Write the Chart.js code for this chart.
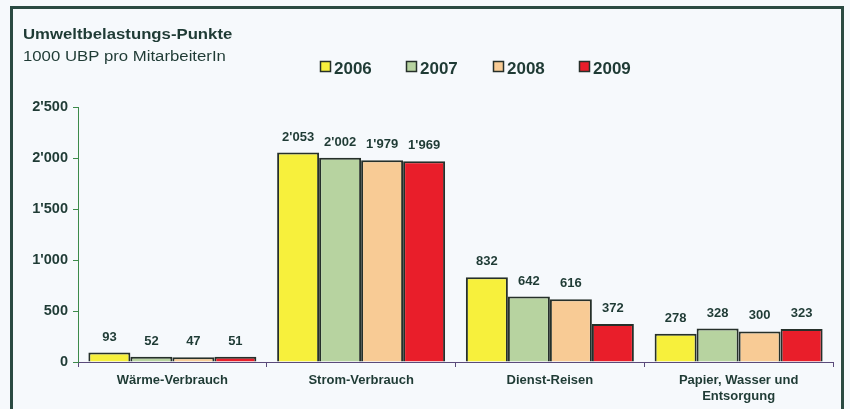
<!DOCTYPE html>
<html><head><meta charset="utf-8">
<script src="https://cdn.jsdelivr.net/npm/chart.js@4.4.1/dist/chart.umd.min.js"></script>
<style>html,body{margin:0;padding:0;background:#f6f9fc}#w{width:850px;height:409px}</style>
</head><body><div id="w"><canvas id="c" width="850" height="409"></canvas></div>
<script>
const categories = ["Wärme-Verbrauch", "Strom-Verbrauch", "Dienst-Reisen", ["Papier, Wasser und", "Entsorgung"]];
const years = ["2006", "2007", "2008", "2009"];
const v2006 = [93, 2053, 832, 278];
const v2007 = [52, 2002, 642, 328];
const v2008 = [47, 1979, 616, 300];
const v2009 = [51, 1969, 372, 323];
const yTicks = [0, 500, 1000, 1500, 2000, 2500];
const titleText = "Umweltbelastungs-Punkte";
const subtitleText = "1000 UBP pro MitarbeiterIn";

const colors = ["#f7f03c", "#b7d3a0", "#f8cb95", "#e91e2a"];
const TXT = "#1f3b35";
const FONT = "'Liberation Sans', Arial, sans-serif";
const fmt = v => { const s = String(Math.round(v)); return s.length > 3 ? s.slice(0, -3) + "'" + s.slice(-3) : s; };

function stretchText(ctx, text, x, y, sx) {
  ctx.save();
  ctx.translate(x, y);
  ctx.scale(sx, 1);
  ctx.fillText(text, 0, 0);
  ctx.restore();
}

const decor = {
  id: 'decor',
  beforeDraw(chart) {
    const ctx = chart.ctx;
    ctx.save();
    ctx.fillStyle = "#f6f9fc";
    ctx.fillRect(0, 0, chart.width, chart.height);
    ctx.strokeStyle = "#2a4a42";
    ctx.lineWidth = 3;
    ctx.strokeRect(11.5, 7.5, 831, 420);
    ctx.restore();
  },
  afterDraw(chart) {
    const ctx = chart.ctx;
    ctx.save();
    ctx.fillStyle = TXT;
    ctx.textBaseline = "alphabetic";
    ctx.textAlign = "left";
    ctx.font = "bold 15.5px " + FONT;
    stretchText(ctx, titleText, 23, 39, 1.08);
    ctx.font = "15.5px " + FONT;
    stretchText(ctx, subtitleText, 23, 61, 1.08);
    // legend
    const xs = [320, 406, 493, 579];
    chart.data.datasets.forEach((ds, i) => {
      ctx.fillStyle = ds.backgroundColor;
      ctx.fillRect(xs[i] + 0.5, 61.5, 10, 10);
      ctx.strokeStyle = "#26302a";
      ctx.lineWidth = 1.5;
      ctx.strokeRect(xs[i] + 0.5, 61.5, 10, 10);
      ctx.fillStyle = TXT;
      ctx.font = "bold 17px " + FONT;
      ctx.fillText(ds.label, xs[i] + 14, 74);
    });
    // data labels
    ctx.font = "bold 13px " + FONT;
    ctx.textAlign = "center";
    ctx.textBaseline = "bottom";
    chart.data.datasets.forEach((ds, i) => {
      chart.getDatasetMeta(i).data.forEach((bar, j) => {
        ctx.fillStyle = TXT;
        ctx.fillText(fmt(ds.data[j]), bar.x, bar.y - 9);
      });
    });
    ctx.restore();
  }
};

const dsList = [v2006, v2007, v2008, v2009].map((d, i) => ({
  label: years[i], data: d, backgroundColor: colors[i],
  borderColor: "#26302a", borderWidth: 2,
  barPercentage: 1, categoryPercentage: 0.89
}));

new Chart(document.getElementById('c'), {
  type: 'bar',
  data: { labels: categories, datasets: dsList },
  plugins: [decor],
  options: {
    responsive: false, animation: false,
    layout: { padding: { top: 107, right: 17, left: 0, bottom: 0 } },
    plugins: { legend: { display: false }, tooltip: { enabled: false }, title: { display: false } },
    scales: {
      x: {
        grid: { display: true, drawOnChartArea: false, offset: true, tickLength: 5, color: "#5a4a7a" },
        border: { display: true, color: "#5a4a7a", width: 1 },
        ticks: { color: TXT, font: { family: FONT, size: 13, weight: 'bold' }, padding: 6, maxRotation: 0 },
        afterFit(s) { s.height = 47; }
      },
      y: {
        min: 0, max: 2500,
        afterBuildTicks(s) { s.ticks = yTicks.map(v => ({ value: v })); },
        grid: { display: true, drawOnChartArea: false, tickLength: 5, color: "#3c8a4a" },
        border: { display: true, color: "#3c8a4a", width: 1 },
        ticks: { color: TXT, font: { family: FONT, size: 14.5, weight: 'bold' }, padding: 5, callback: v => fmt(v) },
        afterFit(s) { s.width = 78; }
      }
    }
  }
});
</script></body></html>
